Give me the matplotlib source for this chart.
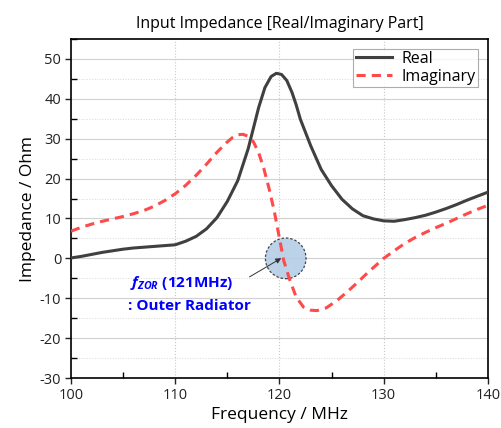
import numpy as np
import matplotlib.pyplot as plt
from matplotlib.patches import Ellipse
from matplotlib.ticker import MultipleLocator

# values
freq_re = [100, 101, 102, 103, 104, 105, 106, 107, 108, 109, 110, 111, 112, 113, 114,
           115, 116, 117, 118, 118.6, 119.2, 119.7, 120.2, 120.7, 121.2, 121.6, 122, 123,
           124, 125, 126, 127, 128, 129, 130, 131, 132, 133, 134, 135, 136, 137, 138,
           139, 140]
real = [0.1, 0.5, 1.0, 1.5, 1.9, 2.3, 2.6, 2.8, 3.0, 3.2, 3.4, 4.3, 5.5, 7.4, 10.2,
        14.3, 19.5, 27.5, 37.8, 42.8, 45.6, 46.4, 46.1, 44.6, 41.6, 38.5, 34.9, 28.2,
        22.3, 18.2, 14.8, 12.4, 10.7, 9.9, 9.4, 9.3, 9.7, 10.2, 10.8, 11.6, 12.5, 13.5,
        14.6, 15.6, 16.6]

freq_im = [100, 101, 102, 103, 104, 105, 106, 107, 108, 109, 110, 111, 112, 113, 114,
           115, 115.5, 116, 116.5, 117, 117.5, 118, 118.5, 119, 119.5, 120, 120.4, 121,
           121.6, 122.3, 123, 123.6, 124.5, 125.5, 126.5, 127.5, 128.5, 130, 131, 132,
           133, 134, 135, 136, 137, 138, 139, 140]
imag = [6.8, 7.8, 8.6, 9.3, 9.9, 10.5, 11.2, 12.0, 13.1, 14.5, 16.2, 18.3, 20.8, 23.6, 26.6,
        29.2, 30.3, 31.0, 31.1, 30.6, 29.2, 26.5, 22.5, 17.5, 11.8, 5.0, -0.5, -5.5,
        -9.7, -12.2, -13.0, -13.1, -12.4, -10.6, -8.4, -6.0, -3.5, 0.0, 1.9, 3.7,
        5.2, 6.5, 7.7, 8.8, 10.0, 11.2, 12.3, 13.3]

zor_f = 120.6
zor_z = 0

plt.rcParams['font.family'] = ['Open Sans', 'DejaVu Sans']
plt.rcParams['axes.unicode_minus'] = False
plt.rcParams['mathtext.fontset'] = 'custom'
plt.rcParams['mathtext.bfit'] = 'Open Sans:italic:bold'
fig = plt.figure(figsize=(5.01, 4.28), dpi=100)
ax = fig.add_axes([0.1417, 0.1168, 0.8323, 0.7921])

ax.plot(freq_re, real, color='#404040', lw=2.2, label='Real', zorder=3)
ax.plot(freq_im, imag, color='#ff4a4a', lw=2.2, ls=(0, (3, 2)), label='Imaginary', zorder=3)

# marker circle around the zero crossing
circ = Ellipse((zor_f, zor_z), 3.9, 10.2, facecolor='#b4cde6', edgecolor='#333333',
               ls=(0, (2, 1.5)), lw=0.9, alpha=0.9, zorder=2)
ax.add_patch(circ)

ax.annotate('', xy=(120.4, 0.4), xytext=(116.9, -5.0),
            arrowprops=dict(arrowstyle='-|>', color='#333333', lw=0.7, mutation_scale=8),
            zorder=4)
ax.text(105.65, -6.2, r'$\mathbfit{f}_{\mathbfit{ZOR}}$ (121MHz)',
        color='#0000ff', fontsize=11, fontweight='bold', va='center')
ax.text(105.5, -12.0, ': Outer Radiator', color='#0000ff', fontsize=11,
        fontweight='bold', va='center')

ax.set_xlim(100, 140)
ax.set_ylim(-30, 55)
ax.xaxis.set_major_locator(MultipleLocator(10))
ax.xaxis.set_minor_locator(MultipleLocator(5))
ax.yaxis.set_major_locator(MultipleLocator(10))
ax.yaxis.set_minor_locator(MultipleLocator(5))
ax.tick_params(which='major', direction='out', length=4, width=1, labelsize=10.5,
               colors='#222222', pad=3)
ax.tick_params(which='minor', direction='in', length=4, width=1)

ax.grid(True, axis='y', which='major', color='#d0d0d0', lw=0.8, zorder=0)
ax.grid(True, axis='y', which='minor', color='#d8d8d8', lw=0.7, ls=':', zorder=0)
ax.grid(True, axis='x', which='major', color='#c8c8c8', lw=0.8, ls=':', zorder=0)
for s in ax.spines.values():
    s.set_linewidth(1.2)

ax.set_title('Input Impedance [Real/Imaginary Part]', fontsize=11.5, pad=8)
ax.set_xlabel('Frequency / MHz', fontsize=12.5, labelpad=3)
ax.set_ylabel('Impedance / Ohm', fontsize=12.5, labelpad=3)

leg = ax.legend(loc='upper right', fontsize=11.5, frameon=True, fancybox=False,
                edgecolor='#999999', handlelength=2.3, borderaxespad=0.6,
                borderpad=0.15, labelspacing=0.1, handletextpad=0.6)
leg.get_frame().set_linewidth(0.8)

fig.savefig('out.png', dpi=100)
